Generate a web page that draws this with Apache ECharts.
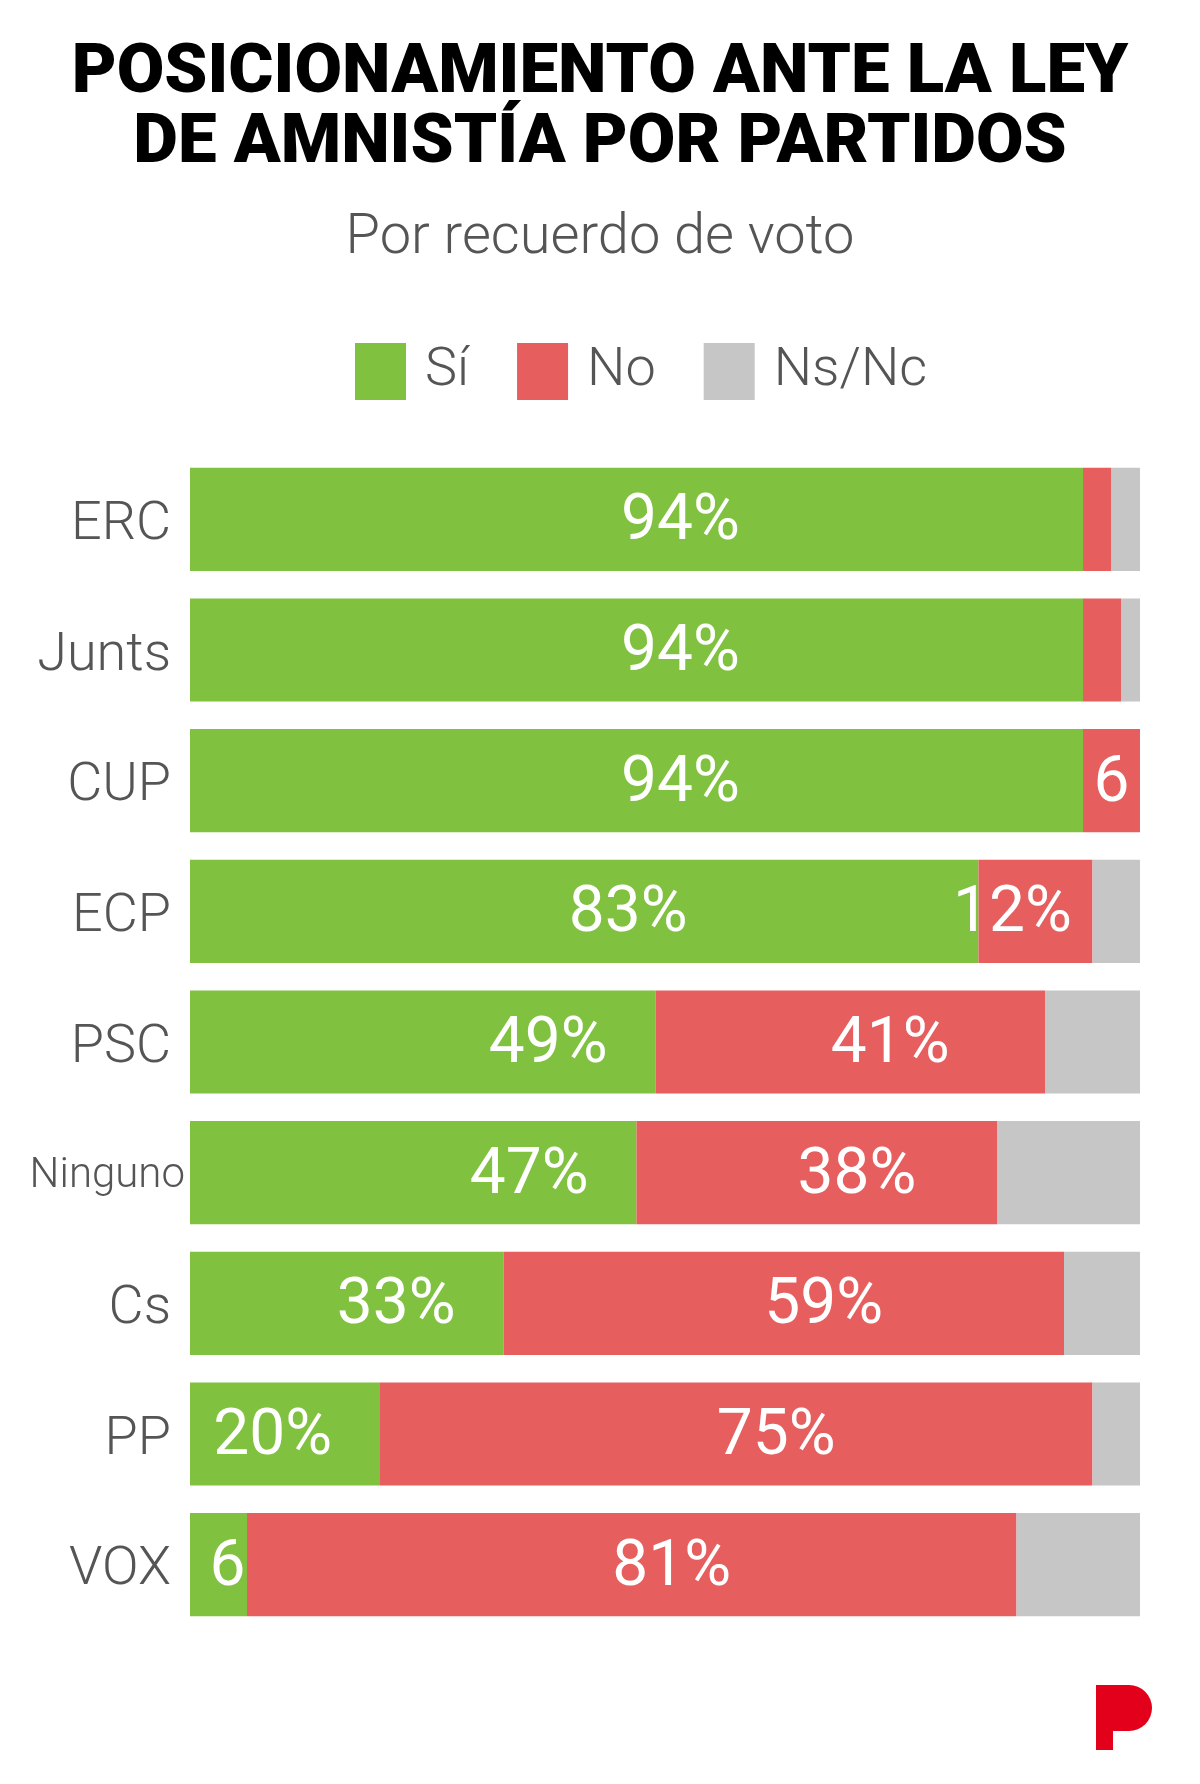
<!DOCTYPE html>
<html>
<head>
<meta charset="utf-8">
<script src="https://cdn.jsdelivr.net/npm/echarts/dist/echarts.min.js"></script>
<style>
html, body { margin: 0; padding: 0; background: #fff; }
#chart { width: 1200px; height: 1784px; }
</style>
</head>
<body>
<div id="chart"></div>
<script>
// data
var partidos = ["ERC", "Junts", "CUP", "ECP", "PSC", "Ninguno", "Cs", "PP", "VOX"];
var si   = [94, 94, 94, 83, 49, 47, 33, 20, 6];
var no   = [3, 4, 6, 12, 41, 38, 59, 75, 81];
var nsnc = [3, 2, 0, 5, 10, 15, 8, 5, 13];

var verde = "#80c13f", rojo = "#e65e5e", gris = "#c6c6c6";
var fuente = "Roboto, 'Liberation Sans', sans-serif";

function etiqueta(v) {
    if (v >= 10) return v + "%";
    if (v >= 5) return String(v);
    return "";
}

// green labels: big ones sit a bit right of centre, others hug the right end
var datosSi = si.map(function (v) {
    var lab;
    if (v >= 80) lab = { position: "inside", offset: [44, 4] };
    else if (v >= 10) lab = { position: "insideRight", distance: 48, offset: [0, 4] };
    else lab = { position: "inside", offset: [9, 4] };
    return { value: v, label: lab };
});
var datosNo = no.map(function (v) {
    var lab;
    if (v >= 30) lab = { position: "inside", offset: [40, 4] };
    else if (v >= 10) lab = { position: "inside", offset: [-23, 4] };
    else lab = { position: "inside", offset: [0, 4] };
    return { value: v, label: lab };
});

var labelBase = {
    show: true,
    color: "#fff",
    fontFamily: fuente,
    fontSize: 64,
    fontWeight: 400,
    formatter: function (p) { return etiqueta(p.value); }
};

var chart = echarts.init(document.getElementById("chart"));
chart.setOption({
    backgroundColor: "#fff",
    animation: false,
    title: [
        {
            text: "POSICIONAMIENTO ANTE LA LEY\nDE AMNISTÍA POR PARTIDOS",
            left: "center",
            top: 35,
            textStyle: {
                fontFamily: fuente,
                fontWeight: 900,
                fontSize: 69,
                lineHeight: 70,
                color: "#000",
                align: "center"
            }
        },
        {
            text: "Por recuerdo de voto",
            left: "center",
            top: 203,
            textStyle: {
                fontFamily: fuente,
                fontWeight: 300,
                fontSize: 56,
                lineHeight: 62,
                color: "#555"
            }
        }
    ],
    legend: {
        data: ["Sí", "No", "Ns/Nc"],
        left: 350,
        top: 338,
        itemWidth: 51,
        itemHeight: 57,
        itemGap: 48,
        icon: "rect",
        textStyle: {
            fontFamily: fuente,
            fontWeight: 300,
            fontSize: 54,
            color: "#555",
            padding: [10, 0, 0, 14]
        }
    },
    grid: { left: 190, right: 60, top: 454, bottom: 154 },
    xAxis: {
        type: "value",
        min: 0,
        max: 100,
        show: false
    },
    yAxis: {
        type: "category",
        data: partidos,
        inverse: true,
        axisLine: { show: false },
        axisTick: { show: false },
        axisLabel: {
            margin: 5,
            color: "#555",
            formatter: function (v) { return v === "Ninguno" ? "{s|" + v + "}" : "{n|" + v + "}"; },
            rich: {
                n: { fontFamily: fuente, fontWeight: 300, fontSize: 54, color: "#555", padding: [12, 14, 0, 0] },
                s: { fontFamily: fuente, fontWeight: 300, fontSize: 42, color: "#555", padding: [8, 0, 0, 0] }
            }
        }
    },
    series: [
        {
            name: "Sí", type: "bar", stack: "t", barCategoryGap: "21%",
            itemStyle: { color: verde }, label: labelBase, data: datosSi
        },
        {
            name: "No", type: "bar", stack: "t",
            itemStyle: { color: rojo }, label: labelBase, data: datosNo
        },
        {
            name: "Ns/Nc", type: "bar", stack: "t",
            itemStyle: { color: gris }, label: { show: false }, data: nsnc
        }
    ],
    // logo
    graphic: [
        {
            type: "group",
            x: 1096,
            y: 1685,
            children: [
                { type: "rect", shape: { x: 0, y: 0, width: 17, height: 65 }, style: { fill: "#e3001b" } },
                { type: "rect", shape: { x: 0, y: 0, width: 33, height: 46 }, style: { fill: "#e3001b" } },
                { type: "circle", shape: { cx: 33, cy: 23, r: 23 }, style: { fill: "#e3001b" } }
            ]
        }
    ]
});
</script>
</body>
</html>
